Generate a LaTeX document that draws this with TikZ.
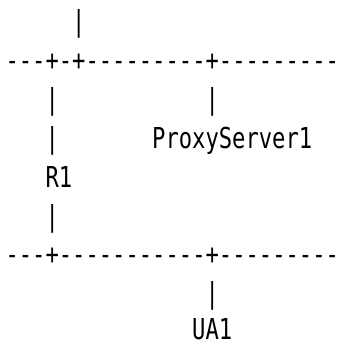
\documentclass[tikz,border=0pt]{standalone}
\usepackage{graphicx}
\usepackage{fontspec}
\newfontfamily\asciimono{DejaVu Sans Mono}
\newcommand{\tallmono}[1]{\scalebox{1}[1.3]{#1}}
\tikzset{asc/.style={anchor=base west,inner sep=0pt,font=\asciimono\fontsize{22.15}{26}\selectfont}}

\begin{document}
\begin{tikzpicture}[x=13.33pt,y=-38.9pt]
\useasboundingbox (-0.4,-0.81) rectangle (25.03,7.98);
\node[asc] (upl) at (5,0) {\tallmono{|}};
\node[asc] (busA) at (0,1) {\tallmono{---+-+---------+---------}};
\node[asc] (rlA) at (3,2) {\tallmono{|}};\node[asc] (psA) at (15,2) {\tallmono{|}};
\node[asc] (rlB) at (3,3) {\tallmono{|}};
\node[asc] (ps) at (11,3) {\tallmono{ProxyServer1}};
\node[asc] (r1) at (3,4) {\tallmono{R1}};
\node[asc] (rlC) at (3,5) {\tallmono{|}};
\node[asc] (busB) at (0,6) {\tallmono{---+-----------+---------}};
\node[asc] (uaA) at (15,7) {\tallmono{|}};
\node[asc] (ua) at (14,7.92) {\tallmono{UA1}};
\end{tikzpicture}
\end{document}
